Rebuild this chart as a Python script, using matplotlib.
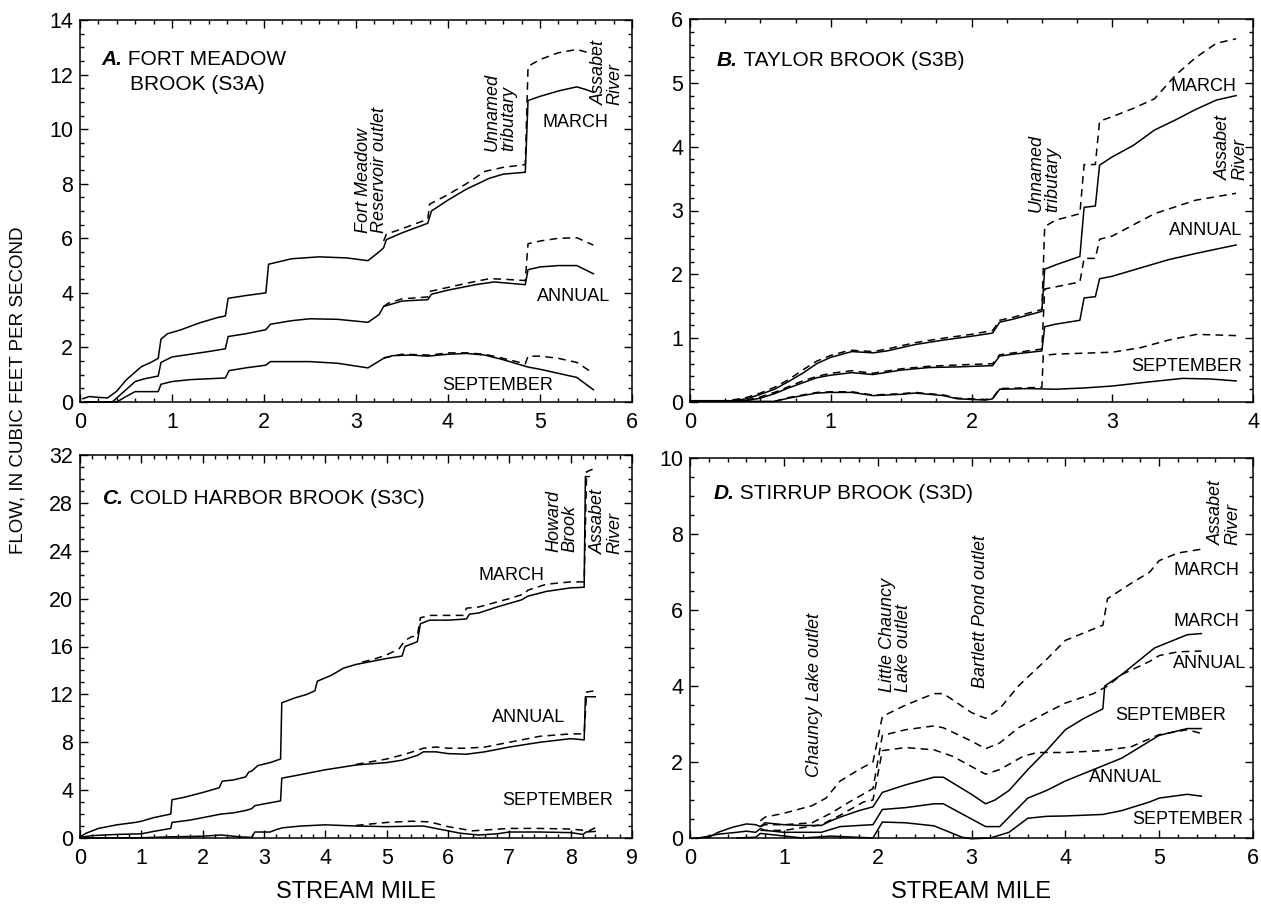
import matplotlib
matplotlib.use("Agg")
import matplotlib.pyplot as plt
from matplotlib.ticker import MultipleLocator

plt.rcParams['font.family'] = ['Liberation Sans', 'DejaVu Sans']

# ---------------- A. Fort Meadow Brook ----------------
a_mar_x = [0.03, 0.1, 0.2, 0.3, 0.4, 0.5, 0.6, 0.67, 0.77, 0.85, 0.88, 0.95, 1.1, 1.3, 1.5, 1.58, 1.61, 1.8, 2.02, 2.05,
           2.3, 2.6, 2.9, 3.13, 3.25, 3.3, 3.33, 3.5, 3.7, 3.78, 3.82, 4.0, 4.2, 4.45, 4.6, 4.84, 4.87, 5.0, 5.2, 5.4, 5.5, 5.58]
a_mar_y = [0.12, 0.2, 0.17, 0.15, 0.4, 0.8, 1.1, 1.3, 1.45, 1.6, 2.3, 2.5, 2.65, 2.9, 3.1, 3.15, 3.8, 3.9, 4.0, 5.05,
           5.25, 5.32, 5.28, 5.18, 5.5, 5.65, 5.95, 6.2, 6.45, 6.55, 7.0, 7.4, 7.8, 8.2, 8.35, 8.42, 11.05, 11.2, 11.4, 11.55, 11.45, 11.35]
a_mar_dx = [3.3, 3.33, 3.5, 3.78, 3.8, 4.0, 4.2, 4.4, 4.6, 4.84, 4.87, 5.0, 5.2, 5.4, 5.58]
a_mar_dy = [5.9, 6.15, 6.35, 6.7, 7.25, 7.6, 8.0, 8.45, 8.6, 8.7, 12.3, 12.55, 12.8, 12.92, 12.75]
a_ann_x = [0.05, 0.35, 0.45, 0.6, 0.7, 0.85, 0.88, 1.0, 1.2, 1.4, 1.58, 1.61, 1.8, 2.02, 2.07, 2.3, 2.5, 2.8, 3.13, 3.25, 3.3,
           3.5, 3.78, 3.82, 4.0, 4.3, 4.5, 4.84, 4.87, 5.0, 5.2, 5.4, 5.58]
a_ann_y = [0.0, 0.0, 0.3, 0.75, 0.85, 0.95, 1.45, 1.65, 1.75, 1.85, 1.95, 2.4, 2.5, 2.65, 2.85, 2.98, 3.05, 3.03, 2.92, 3.2, 3.5,
           3.7, 3.75, 3.95, 4.1, 4.3, 4.4, 4.3, 4.85, 4.95, 5.0, 5.0, 4.7]
a_ann_dx = [3.3, 3.35, 3.5, 3.78, 3.8, 4.0, 4.2, 4.45, 4.6, 4.84, 4.87, 5.0, 5.2, 5.4, 5.58]
a_ann_dy = [3.5, 3.62, 3.78, 3.85, 4.05, 4.2, 4.35, 4.52, 4.5, 4.45, 5.8, 5.9, 6.0, 6.02, 5.75]
a_sep_x = [0.05, 0.4, 0.5, 0.6, 0.7, 0.85, 0.88, 1.0, 1.2, 1.58, 1.62, 1.8, 2.02, 2.07, 2.5, 2.8, 3.13, 3.3, 3.4, 3.6, 3.78,
           4.0, 4.2, 4.4, 4.6, 4.87, 5.0, 5.2, 5.4, 5.58]
a_sep_y = [0.0, 0.0, 0.2, 0.38, 0.38, 0.38, 0.65, 0.75, 0.82, 0.88, 1.15, 1.25, 1.35, 1.48, 1.48, 1.42, 1.25, 1.6, 1.7, 1.72, 1.68,
           1.75, 1.78, 1.72, 1.55, 1.28, 1.2, 1.05, 0.9, 0.45]
a_sep_dx = [3.3, 3.5, 3.8, 4.0, 4.2, 4.4, 4.6, 4.84, 4.87, 5.0, 5.2, 5.4, 5.58]
a_sep_dy = [1.62, 1.75, 1.72, 1.8, 1.8, 1.75, 1.6, 1.4, 1.68, 1.68, 1.6, 1.45, 1.05]

# ---------------- B. Taylor Brook ----------------
b_mar_x = [0.0, 0.3, 0.4, 0.5, 0.6, 0.7, 0.8, 0.9, 1.0, 1.1, 1.15, 1.3, 1.4, 1.6, 1.8, 2.0, 2.15, 2.2, 2.3, 2.5,
           2.52, 2.6, 2.77, 2.8, 2.88, 2.91, 3.0, 3.15, 3.3, 3.45, 3.59, 3.74, 3.88]
b_mar_y = [0.02, 0.02, 0.05, 0.12, 0.2, 0.32, 0.45, 0.6, 0.7, 0.76, 0.79, 0.77, 0.8, 0.9, 0.97, 1.03, 1.08, 1.25, 1.3, 1.42,
           2.08, 2.15, 2.28, 3.05, 3.07, 3.71, 3.84, 4.02, 4.26, 4.42, 4.58, 4.73, 4.8]
b_mar_dx = [0.3, 0.4, 0.5, 0.6, 0.7, 0.8, 0.9, 1.0, 1.1, 1.15, 1.3, 1.4, 1.6, 1.8, 2.0, 2.15, 2.2, 2.3, 2.5, 2.52,
            2.6, 2.77, 2.8, 2.88, 2.91, 3.0, 3.15, 3.3, 3.45, 3.59, 3.74, 3.88]
b_mar_dy = [0.03, 0.07, 0.14, 0.23, 0.35, 0.5, 0.64, 0.73, 0.79, 0.81, 0.79, 0.83, 0.93, 1.0, 1.06, 1.12, 1.28, 1.33, 1.45, 2.75,
            2.85, 2.95, 3.72, 3.72, 4.4, 4.47, 4.6, 4.75, 5.12, 5.39, 5.62, 5.69]
b_ann_x = [0.0, 0.4, 0.5, 0.6, 0.7, 0.8, 0.9, 1.0, 1.15, 1.3, 1.5, 1.7, 1.9, 2.15, 2.2, 2.3, 2.5, 2.52, 2.6, 2.77,
           2.8, 2.88, 2.91, 3.0, 3.2, 3.4, 3.6, 3.75, 3.88]
b_ann_y = [0.02, 0.02, 0.06, 0.13, 0.22, 0.3, 0.38, 0.42, 0.46, 0.43, 0.5, 0.54, 0.55, 0.57, 0.72, 0.75, 0.8, 1.18, 1.22, 1.28,
           1.63, 1.65, 1.93, 1.97, 2.1, 2.23, 2.33, 2.4, 2.46]
b_ann_dx = [0.4, 0.5, 0.6, 0.7, 0.8, 0.9, 1.0, 1.15, 1.3, 1.5, 1.7, 1.9, 2.15, 2.2, 2.3, 2.5, 2.52, 2.77, 2.8, 2.88,
            2.91, 3.0, 3.3, 3.59, 3.88]
b_ann_dy = [0.03, 0.08, 0.15, 0.24, 0.33, 0.4, 0.45, 0.49, 0.45, 0.52, 0.56, 0.58, 0.6, 0.74, 0.77, 0.83, 1.77, 1.88, 2.25, 2.25,
            2.55, 2.6, 2.95, 3.16, 3.27]
b_sep_x = [0.0, 0.6, 0.7, 0.9, 1.0, 1.15, 1.3, 1.5, 1.6, 1.8, 1.9, 2.1, 2.15, 2.2, 2.4, 2.6, 2.8, 3.0, 3.2, 3.5, 3.7, 3.88]
b_sep_y = [0.01, 0.01, 0.06, 0.14, 0.15, 0.15, 0.1, 0.12, 0.14, 0.1, 0.05, 0.03, 0.05, 0.2, 0.21, 0.2, 0.22, 0.25, 0.3, 0.37, 0.36, 0.33]
b_sep_dx = [0.6, 0.7, 0.9, 1.0, 1.15, 1.3, 1.5, 1.6, 1.8, 1.9, 2.1, 2.15, 2.2, 2.5, 2.51, 2.6, 3.0, 3.2, 3.4, 3.6, 3.88]
b_sep_dy = [0.01, 0.07, 0.15, 0.16, 0.16, 0.11, 0.13, 0.15, 0.11, 0.06, 0.04, 0.06, 0.21, 0.23, 0.73, 0.75, 0.78, 0.85, 0.97, 1.06, 1.04]

# ---------------- C. Cold Harbor Brook ----------------
c_mar_x = [0.0, 0.1, 0.3, 0.6, 0.9, 1.0, 1.2, 1.48, 1.5, 1.7, 2.0, 2.27, 2.32, 2.5, 2.7, 2.75, 2.8, 2.9, 3.1, 3.27,
           3.29, 3.5, 3.7, 3.83, 3.87, 4.1, 4.3, 4.5, 4.8, 5.0, 5.25, 5.3, 5.5, 5.55, 5.7, 6.0, 6.3, 6.35, 6.5, 6.8,
           7.2, 7.3, 7.6, 8.0, 8.22, 8.24, 8.3]
c_mar_y = [0.1, 0.4, 0.8, 1.1, 1.3, 1.4, 1.7, 2.0, 3.2, 3.4, 3.8, 4.2, 4.75, 4.85, 5.1, 5.5, 5.6, 6.05, 6.3, 6.6,
           11.3, 11.7, 12.0, 12.3, 13.1, 13.6, 14.2, 14.5, 14.8, 15.0, 15.2, 16.0, 16.4, 17.9, 18.2, 18.2, 18.3, 18.7, 18.8, 19.3,
           19.9, 20.2, 20.6, 20.9, 20.95, 30.2, 30.2]
c_mar_dx = [4.6, 4.8, 5.0, 5.2, 5.3, 5.4, 5.5, 5.55, 5.7, 6.0, 6.25, 6.3, 6.5, 7.0, 7.25, 7.3, 7.6, 8.0, 8.22, 8.26, 8.4]
c_mar_dy = [14.7, 14.95, 15.3, 15.8, 16.5, 16.8, 16.9, 18.4, 18.6, 18.6, 18.6, 19.2, 19.3, 20.0, 20.4, 20.7, 21.2, 21.4, 21.4, 30.6, 30.9]
c_ann_x = [0.0, 0.2, 0.6, 1.0, 1.2, 1.48, 1.5, 1.8, 2.0, 2.3, 2.5, 2.7, 2.8, 2.85, 3.0, 3.27, 3.29, 3.5, 4.0, 4.5,
           5.0, 5.25, 5.5, 5.6, 5.8, 6.0, 6.3, 6.6, 7.0, 7.5, 8.0, 8.22, 8.24, 8.4]
c_ann_y = [0.05, 0.2, 0.3, 0.35, 0.55, 0.8, 1.3, 1.5, 1.7, 2.0, 2.1, 2.3, 2.45, 2.7, 2.85, 3.1, 5.0, 5.2, 5.7, 6.1,
           6.3, 6.5, 6.9, 7.2, 7.2, 7.05, 7.0, 7.2, 7.6, 8.0, 8.3, 8.2, 11.8, 11.8]
c_ann_dx = [4.5, 5.0, 5.3, 5.6, 5.8, 6.0, 6.3, 6.6, 7.0, 7.5, 8.0, 8.22, 8.26, 8.4]
c_ann_dy = [6.15, 6.6, 7.0, 7.5, 7.6, 7.5, 7.5, 7.6, 8.0, 8.5, 8.7, 8.7, 12.2, 12.3]
c_sep_x = [0.0, 1.0, 1.5, 2.0, 2.3, 2.6, 2.8, 2.85, 3.1, 3.2, 3.3, 3.6, 4.0, 4.5, 5.0, 5.6, 5.8, 6.2, 6.5, 6.8,
           7.0, 7.5, 8.0, 8.2, 8.25, 8.4]
c_sep_y = [0.0, 0.02, 0.1, 0.15, 0.25, 0.1, 0.05, 0.5, 0.5, 0.7, 0.85, 1.0, 1.1, 1.0, 0.95, 1.0, 0.8, 0.4, 0.25, 0.35,
           0.5, 0.5, 0.45, 0.3, 0.5, 0.55]
c_sep_dx = [4.5, 5.0, 5.4, 5.7, 6.0, 6.4, 7.0, 7.5, 8.0, 8.3, 8.4]
c_sep_dy = [1.05, 1.3, 1.4, 1.35, 0.95, 0.6, 0.8, 0.8, 0.75, 0.6, 0.85]

# ---------------- D. Stirrup Brook ----------------
d_mar_x = [0.05, 0.2, 0.3, 0.45, 0.6, 0.7, 0.75, 0.8, 1.0, 1.2, 1.4, 1.5, 1.6, 1.8, 1.95, 2.05, 2.3, 2.6, 2.7, 3.0,
           3.15, 3.25, 3.4, 3.6, 3.8, 4.0, 4.2, 4.4, 4.42, 4.6, 4.8, 4.95, 5.1, 5.3, 5.45]
d_mar_y = [0.0, 0.02, 0.15, 0.28, 0.37, 0.35, 0.3, 0.4, 0.35, 0.33, 0.33, 0.45, 0.55, 0.72, 0.82, 1.2, 1.4, 1.6, 1.6, 1.15,
           0.9, 1.0, 1.25, 1.8, 2.3, 2.85, 3.15, 3.4, 4.0, 4.3, 4.7, 5.0, 5.15, 5.35, 5.38]
d_ann_x = [0.1, 0.3, 0.5, 0.6, 0.7, 0.75, 0.8, 1.0, 1.2, 1.4, 1.6, 1.8, 1.95, 2.05, 2.3, 2.6, 2.7, 3.0, 3.15, 3.3,
           3.6, 3.8, 4.0, 4.3, 4.6, 4.9, 5.0, 5.3, 5.45]
d_ann_y = [0.0, 0.1, 0.15, 0.18, 0.15, 0.25, 0.2, 0.15, 0.15, 0.15, 0.3, 0.33, 0.35, 0.75, 0.8, 0.9, 0.9, 0.5, 0.3, 0.3,
           1.05, 1.25, 1.5, 1.8, 2.1, 2.55, 2.7, 2.88, 2.88]
d_sep_x = [0.5, 0.7, 0.75, 0.9, 1.2, 1.5, 1.95, 2.05, 2.3, 2.6, 2.9, 3.0, 3.2, 3.4, 3.6, 3.8, 4.0, 4.4, 4.6, 4.9,
           5.0, 5.3, 5.45]
d_sep_y = [0.0, 0.02, 0.12, 0.08, 0.0, 0.05, 0.0, 0.42, 0.4, 0.32, 0.02, -0.02, 0.0, 0.15, 0.52, 0.57, 0.58, 0.62, 0.72, 0.95,
           1.05, 1.15, 1.1]
d_mar_dx = [0.75, 0.8, 1.0, 1.3, 1.45, 1.6, 1.8, 1.95, 2.05, 2.3, 2.6, 2.7, 3.0, 3.15, 3.3, 3.5, 3.8, 4.0, 4.2, 4.4,
            4.45, 4.7, 4.9, 5.0, 5.2, 5.45]
d_mar_dy = [0.45, 0.55, 0.65, 0.85, 1.05, 1.5, 1.8, 2.0, 3.2, 3.5, 3.8, 3.8, 3.3, 3.15, 3.4, 4.0, 4.7, 5.2, 5.4, 5.6,
            6.3, 6.7, 7.0, 7.3, 7.5, 7.6]
d_ann_dx = [0.75, 0.8, 1.0, 1.3, 1.5, 1.7, 1.95, 2.05, 2.3, 2.6, 2.7, 3.0, 3.15, 3.3, 3.5, 3.8, 4.0, 4.3, 4.45, 4.6,
            4.9, 5.0, 5.2, 5.45]
d_ann_dy = [0.3, 0.35, 0.35, 0.4, 0.65, 0.95, 1.3, 2.7, 2.85, 2.95, 2.9, 2.55, 2.35, 2.5, 2.9, 3.3, 3.55, 3.8, 4.0, 4.3,
            4.65, 4.8, 4.9, 4.92]
d_sep_dx = [0.75, 1.0, 1.4, 1.6, 1.85, 1.95, 2.05, 2.3, 2.6, 2.8, 3.15, 3.3, 3.55, 3.7, 4.0, 4.4, 4.7, 5.0, 5.3, 5.45]
d_sep_dy = [0.2, 0.2, 0.35, 0.6, 0.95, 1.0, 2.3, 2.38, 2.32, 2.15, 1.68, 1.8, 2.15, 2.25, 2.25, 2.3, 2.4, 2.72, 2.85, 2.75]

W, H = 1261, 917
TICK_FS = 15.5
LAB_FS = 13
TITLE_FS = 15
LW = 1.1
DASH = (5, 3.5)

fig = plt.figure(figsize=(W / 100, H / 100), dpi=100)

def box(l, t, r, b):
    return [l / W, 1 - b / H, (r - l) / W, (b - t) / H]

axA = fig.add_axes(box(80, 20, 632, 402))
axB = fig.add_axes(box(690, 19, 1253, 402))
axC = fig.add_axes(box(80, 455, 632, 838))
axD = fig.add_axes(box(690, 458, 1253, 838))

def setup(ax, xmax, ymax, xmaj, xmin, ymaj, ymin):
    ax.set_xlim(0, xmax)
    ax.set_ylim(0, ymax)
    ax.xaxis.set_major_locator(MultipleLocator(xmaj))
    ax.xaxis.set_minor_locator(MultipleLocator(xmin))
    ax.yaxis.set_major_locator(MultipleLocator(ymaj))
    ax.yaxis.set_minor_locator(MultipleLocator(ymin))
    ax.tick_params(which='both', direction='in', top=True, right=True, labelsize=TICK_FS, width=1)
    ax.tick_params(which='major', length=5.5)
    ax.tick_params(which='minor', length=2.8)
    ax.tick_params(axis='x', which='major', pad=7)
    ax.tick_params(axis='y', which='major', pad=5)
    for s in ax.spines.values():
        s.set_linewidth(1.1)

def curves(ax, pairs_solid, pairs_dash):
    for x, y in pairs_solid:
        ax.plot(x, y, color='black', lw=LW, clip_on=False)
    for x, y in pairs_dash:
        ax.plot(x, y, color='black', lw=LW, dashes=DASH, clip_on=False)

def title(ax, x, y, letter, rest):
    t = ax.text(x, y, letter, fontsize=TITLE_FS, fontweight='bold', fontstyle='italic', ha='left', va='baseline')
    ax.annotate(' ' + rest, xy=(1, 0), xycoords=t, fontsize=TITLE_FS, ha='left', va='bottom')

def label(ax, x, y, s):
    ax.text(x, y, s, fontsize=LAB_FS, ha='center', va='center')

def trib(ax, x, y, s):
    ax.text(x, y, s, fontsize=LAB_FS, fontstyle='italic', rotation=90, ha='center', va='bottom',
            multialignment='left', linespacing=0.95)

# Panel A
setup(axA, 6, 14, 1, 0.2, 2, 0.5)
curves(axA, [(a_mar_x, a_mar_y), (a_ann_x, a_ann_y), (a_sep_x, a_sep_y)],
       [(a_mar_dx, a_mar_dy), (a_ann_dx, a_ann_dy), (a_sep_dx, a_sep_dy)])
title(axA, 0.23, 12.35, 'A.', 'FORT MEADOW')
axA.text(0.54, 11.43, 'BROOK (S3A)', fontsize=TITLE_FS, ha='left', va='baseline')
label(axA, 5.39, 10.25, 'MARCH')
label(axA, 5.36, 3.85, 'ANNUAL')
label(axA, 4.54, 0.6, 'SEPTEMBER')
trib(axA, 3.17, 6.2, 'Fort Meadow\nReservoir outlet')
trib(axA, 4.57, 9.2, 'Unnamed\ntributary')
trib(axA, 5.73, 10.9, 'Assabet\nRiver')

# Panel B
setup(axB, 4, 6, 1, 0.25, 1, 0.2)
curves(axB, [(b_mar_x, b_mar_y), (b_ann_x, b_ann_y), (b_sep_x, b_sep_y)],
       [(b_mar_dx, b_mar_dy), (b_ann_dx, b_ann_dy), (b_sep_dx, b_sep_dy)])
title(axB, 0.19, 5.26, 'B.', 'TAYLOR BROOK (S3B)')
label(axB, 3.65, 4.95, 'MARCH')
label(axB, 3.66, 2.68, 'ANNUAL')
label(axB, 3.53, 0.56, 'SEPTEMBER')
trib(axB, 2.52, 2.98, 'Unnamed\ntributary')
trib(axB, 3.85, 3.48, 'Assabet\nRiver')

# Panel C
setup(axC, 9, 32, 1, 0.2, 4, 1)
curves(axC, [(c_mar_x, c_mar_y), (c_ann_x, c_ann_y), (c_sep_x, c_sep_y)],
       [(c_mar_dx, c_mar_dy), (c_ann_dx, c_ann_dy), (c_sep_dx, c_sep_dy)])
title(axC, 0.38, 27.9, 'C.', 'COLD HARBOR BROOK (S3C)')
label(axC, 7.03, 21.9, 'MARCH')
label(axC, 7.32, 10.1, 'ANNUAL')
label(axC, 7.78, 3.15, 'SEPTEMBER')
trib(axC, 7.86, 23.9, 'Howard\nBrook')
trib(axC, 8.59, 23.7, 'Assabet\nRiver')

# Panel D
setup(axD, 6, 10, 1, 0.2, 2, 0.5)
curves(axD, [(d_mar_x, d_mar_y), (d_ann_x, d_ann_y), (d_sep_x, d_sep_y)],
       [(d_mar_dx, d_mar_dy), (d_ann_dx, d_ann_dy), (d_sep_dx, d_sep_dy)])
title(axD, 0.25, 8.91, 'D.', 'STIRRUP BROOK (S3D)')
label(axD, 5.5, 7.05, 'MARCH')
label(axD, 5.5, 5.7, 'MARCH')
label(axD, 5.54, 4.6, 'ANNUAL')
label(axD, 5.12, 3.23, 'SEPTEMBER')
label(axD, 4.64, 1.6, 'ANNUAL')
label(axD, 5.3, 0.48, 'SEPTEMBER')
trib(axD, 1.33, 1.6, 'Chauncy Lake outlet')
trib(axD, 2.19, 3.83, 'Little Chauncy\nLake outlet')
trib(axD, 3.1, 3.96, 'Bartlett Pond outlet')
trib(axD, 5.7, 7.7, 'Assabet\nRiver')

fig.text(18 / W, 1 - 390 / H, 'FLOW, IN CUBIC FEET PER SECOND', rotation=90, ha='center', va='center', fontsize=13.5)
fig.text(356 / W, 1 - 892 / H, 'STREAM MILE', ha='center', va='center', fontsize=17)
fig.text(971 / W, 1 - 892 / H, 'STREAM MILE', ha='center', va='center', fontsize=17)

fig.savefig('out.png', dpi=100)
